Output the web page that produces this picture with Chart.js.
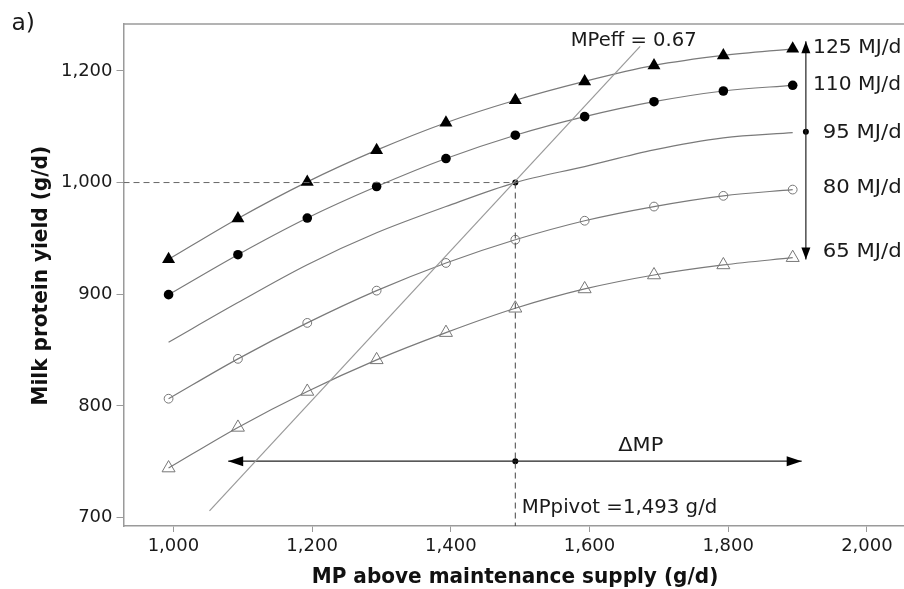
<!DOCTYPE html>
<html><head><meta charset="utf-8">
<script src="https://cdn.jsdelivr.net/npm/chart.js@4.4.1/dist/chart.umd.min.js"></script>
<style>html,body{margin:0;padding:0;background:#fff;overflow:hidden;}#wrap{width:904px;height:589px;position:relative;}</style>
</head><body><div id="wrap"><canvas id="c" width="904" height="589"></canvas></div>
<script>
// ---- data ----
const mpSupply = [993, 1093, 1193, 1293, 1393, 1493, 1593, 1693, 1793, 1893];
const yield125 = [931.2, 967.8, 1000.6, 1029.0, 1053.6, 1073.7, 1090.6, 1104.9, 1113.9, 1119.8];
const yield110 = [899.6, 935.4, 968.2, 996.4, 1021.5, 1042.4, 1059.0, 1072.4, 1082.0, 1087.1];
const yield95  = [857.0, 892.5, 926.4, 955.0, 978.5, 1000.0, 1014.3, 1029.2, 1040.0, 1044.7];
const yield80  = [806.4, 842.1, 874.3, 903.2, 928.0, 948.8, 965.8, 978.5, 988.1, 993.7];
const yield65  = [744.3, 780.7, 812.9, 841.2, 865.6, 887.4, 904.7, 917.2, 926.2, 932.7];
const seriesLabels = ['125 MJ/d', '110 MJ/d', '95 MJ/d', '80 MJ/d', '65 MJ/d'];

const xTickValues = [1000, 1200, 1400, 1600, 1800, 2000];
const xTickLabels = ['1,000', '1,200', '1,400', '1,600', '1,800', '2,000'];
const yTickValues = [700, 800, 900, 1000, 1100];
const yTickLabels = ['700', '800', '900', '1,000', '1,200'];

const mpEffX = [1052, 1673];
const mpEffY = [706, 1122];
const pivotX = 1493;
const pivotY = 1000;
const deltaArrowX = [1079, 1906];
const deltaArrowY = 750.5;
const energyArrowX = 1912;
const energyArrowY = [931, 1126.5];
const energyDotY = 1045.5;

const xTitle = 'MP above maintenance supply (g/d)';
const yTitle = 'Milk protein yield (g/d)';
const mpEffText = 'MPeff = 0.67';
const deltaText = '\u0394MP';
const pivotText = 'MPpivot =1,493 g/d';
const panelText = 'a)';

// ---- chart ----
const X_MIN = 928, X_MAX = 2053.5, Y_MIN = 692.4, Y_MAX = 1142;
const pts = (xs, ys) => xs.map((x, i) => ({x: x, y: ys[i]}));
const LINE = '#7a7a7a';

function fitText(ctx, text, x, y, width, font, color, rot) {
  ctx.save();
  ctx.font = font;
  ctx.fillStyle = color;
  ctx.textBaseline = 'alphabetic';
  ctx.textAlign = 'left';
  const w = ctx.measureText(text).width;
  ctx.translate(x, y);
  if (rot) ctx.rotate(rot);
  ctx.scale(width / w, 1);
  ctx.fillText(text, 0, 0);
  ctx.restore();
}

function head(ctx, x, y, dir, len, half) {
  ctx.beginPath();
  if (dir === 'up') { ctx.moveTo(x, y); ctx.lineTo(x - half, y + len); ctx.lineTo(x + half, y + len); }
  if (dir === 'down') { ctx.moveTo(x, y); ctx.lineTo(x - half, y - len); ctx.lineTo(x + half, y - len); }
  if (dir === 'left') { ctx.moveTo(x, y); ctx.lineTo(x + len, y - half); ctx.lineTo(x + len, y + half); }
  if (dir === 'right') { ctx.moveTo(x, y); ctx.lineTo(x - len, y - half); ctx.lineTo(x - len, y + half); }
  ctx.closePath();
  ctx.fill();
}

const decor = {
  id: 'decor',
  beforeDatasetsDraw(chart) {
    const {ctx, chartArea: a} = chart;
    ctx.save();
    ctx.strokeStyle = '#9a9a9a';
    ctx.lineWidth = 1.5;
    ctx.beginPath();
    ctx.moveTo(a.left, a.top);
    ctx.lineTo(a.right + 2, a.top);
    ctx.stroke();
    ctx.restore();
  },
  afterDatasetsDraw(chart) {
    const {ctx} = chart;
    const xs = chart.scales.x, ys = chart.scales.y;
    ctx.save();
    ctx.fillStyle = '#000';
    const vx = xs.getPixelForValue(energyArrowX);
    head(ctx, vx, ys.getPixelForValue(energyArrowY[1]), 'up', 12, 4.5);
    head(ctx, vx, ys.getPixelForValue(energyArrowY[0]), 'down', 12, 4.5);
    const hy = ys.getPixelForValue(deltaArrowY);
    head(ctx, xs.getPixelForValue(deltaArrowX[0]), hy, 'left', 15, 5);
    head(ctx, xs.getPixelForValue(deltaArrowX[1]), hy, 'right', 15, 5);
    ctx.restore();

    const F = '19px "DejaVu Sans"';
    const C = '#1a1a1a';
    fitText(ctx, seriesLabels[0], 813, 53.3, 88.5, F, C);
    fitText(ctx, seriesLabels[1], 813, 89.5, 88, F, C);
    fitText(ctx, seriesLabels[2], 822.7, 138.3, 79, F, C);
    fitText(ctx, seriesLabels[3], 822.7, 193.3, 79, F, C);
    fitText(ctx, seriesLabels[4], 822.7, 257.3, 79, F, C);
    fitText(ctx, mpEffText, 570.7, 46, 126, F, C);
    fitText(ctx, deltaText, 618.3, 450.7, 45, F, C);
    fitText(ctx, pivotText, 521.7, 513.3, 195.6, F, C);
    fitText(ctx, panelText, 11.5, 30, 23.5, '23px "DejaVu Sans"', C);

    // axis titles (bold)
    const FB = 'bold 21px "DejaVu Sans"';
    ctx.save();
    ctx.font = FB;
    const k = 406.6 / ctx.measureText(xTitle).width;
    const yw = ctx.measureText(yTitle).width * k;
    ctx.restore();
    fitText(ctx, xTitle, 311.7, 583.3, 406.6, FB, '#111');
    fitText(ctx, yTitle, 46.7, 405.5, yw, FB, '#111', -Math.PI / 2);
  }
};

const seriesStyle = () => ({showLine: true, borderColor: LINE, borderWidth: 1.2, cubicInterpolationMode: 'monotone', fill: false});

new Chart(document.getElementById('c'), {
  type: 'scatter',
  data: {
    datasets: [
      {label: 'h-dash', data: pts([X_MIN, pivotX], [pivotY, pivotY]), showLine: true, borderColor: '#666', borderWidth: 1, borderDash: [6, 4], pointRadius: 0},
      {label: 'v-dash', data: pts([pivotX, pivotX], [pivotY, Y_MIN]), showLine: true, borderColor: '#444', borderWidth: 1, borderDash: [6, 4], pointRadius: 0},
      {label: 'MPeff', data: pts(mpEffX, mpEffY), showLine: true, borderColor: '#999', borderWidth: 1.2, pointRadius: 0},
      {label: 'dMP', data: pts(deltaArrowX, [deltaArrowY, deltaArrowY]), showLine: true, borderColor: '#222', borderWidth: 1.2, pointRadius: 0},
      {label: 'energy', data: pts([energyArrowX, energyArrowX], energyArrowY), showLine: true, borderColor: '#222', borderWidth: 1.2, pointRadius: 0},
      Object.assign({label: seriesLabels[2], data: pts(mpSupply, yield95), pointRadius: 0}, seriesStyle()),
      Object.assign({label: seriesLabels[4], data: pts(mpSupply, yield65), pointStyle: 'triangle', pointRadius: 7.5, pointBackgroundColor: 'rgba(0,0,0,0)', pointBorderColor: '#777', pointBorderWidth: 1}, seriesStyle()),
      Object.assign({label: seriesLabels[3], data: pts(mpSupply, yield80), pointStyle: 'circle', pointRadius: 4.4, pointBackgroundColor: 'rgba(0,0,0,0)', pointBorderColor: '#777', pointBorderWidth: 1}, seriesStyle()),
      Object.assign({label: seriesLabels[1], data: pts(mpSupply, yield110), pointStyle: 'circle', pointRadius: 4.8, pointBackgroundColor: '#000', pointBorderColor: '#000', pointBorderWidth: 0}, seriesStyle()),
      Object.assign({label: seriesLabels[0], data: pts(mpSupply, yield125), pointStyle: 'triangle', pointRadius: 7.5, pointBackgroundColor: '#000', pointBorderColor: '#000', pointBorderWidth: 0}, seriesStyle()),
      {label: 'dots', data: pts([pivotX, pivotX, energyArrowX], [pivotY, deltaArrowY, energyDotY]), showLine: false, pointRadius: 3, pointBackgroundColor: '#000', pointBorderWidth: 0}
    ]
  },
  options: {
    responsive: false,
    animation: false,
    events: [],
    layout: {autoPadding: false, padding: {top: 24, right: 0, left: 0, bottom: 0}},
    plugins: {legend: {display: false}, tooltip: {enabled: false}, title: {display: false}},
    scales: {
      x: {
        type: 'linear', min: X_MIN, max: X_MAX,
        afterBuildTicks: (ax) => { ax.ticks = xTickValues.map(v => ({value: v})); },
        afterFit: (ax) => { ax.height = 63; ax.paddingLeft = 0; ax.paddingRight = 0; },
        ticks: {callback: (v, i) => xTickLabels[i], font: {family: 'DejaVu Sans', size: 18}, color: '#1a1a1a', padding: 4, maxRotation: 0, autoSkip: false},
        grid: {drawOnChartArea: false, drawTicks: true, tickLength: 6, color: '#9a9a9a', lineWidth: 1},
        border: {display: true, color: '#9a9a9a', width: 1.5}
      },
      y: {
        type: 'linear', min: Y_MIN, max: Y_MAX,
        afterBuildTicks: (ax) => { ax.ticks = yTickValues.map(v => ({value: v})); },
        afterFit: (ax) => { ax.width = 123.5; ax.paddingTop = 0; ax.paddingBottom = 0; },
        ticks: {callback: (v, i) => yTickLabels[i], font: {family: 'DejaVu Sans', size: 18}, color: '#1a1a1a', padding: 4, autoSkip: false},
        grid: {drawOnChartArea: false, drawTicks: true, tickLength: 7, color: '#9a9a9a', lineWidth: 1},
        border: {display: true, color: '#9a9a9a', width: 1.5}
      }
    }
  },
  plugins: [decor]
});
</script>
</body></html>
